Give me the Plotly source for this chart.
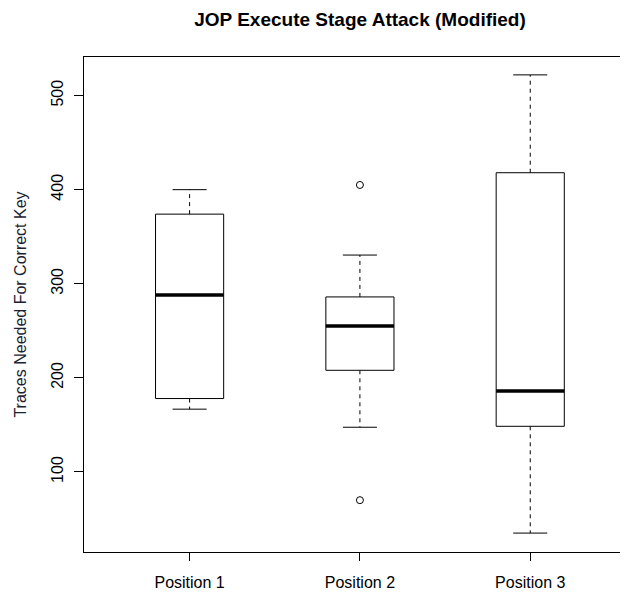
import plotly.graph_objects as go

categories = ["Position 1", "Position 2", "Position 3"]
positions = [1, 2, 3]
lower_whisker = [166.7, 147.5, 35.0]
q1 = [178.0, 208.0, 148.5]
median = [288.0, 255.0, 186.0]
q3 = [374.0, 286.0, 418.0]
upper_whisker = [400.0, 330.5, 522.0]
outlier_x = [2, 2]
outlier_y = [405.0, 70.0]
y_ticks = [100, 200, 300, 400, 500]

half_box = 0.2
half_cap = 0.1

fig = go.Figure()
for i, p in enumerate(positions):
    # box body
    fig.add_trace(go.Scatter(
        x=[p - half_box, p + half_box, p + half_box, p - half_box, p - half_box],
        y=[q1[i], q1[i], q3[i], q3[i], q1[i]],
        mode="lines", line=dict(color="black", width=1), hoverinfo="skip", showlegend=False))
    # median
    fig.add_trace(go.Scatter(
        x=[p - half_box, p + half_box], y=[median[i], median[i]],
        mode="lines", line=dict(color="black", width=3.5), hoverinfo="skip", showlegend=False))
    # whiskers (dashed)
    fig.add_trace(go.Scatter(
        x=[p, p, None, p, p], y=[q3[i], upper_whisker[i], None, q1[i], lower_whisker[i]],
        mode="lines", line=dict(color="black", width=1, dash="4px,4px"), hoverinfo="skip", showlegend=False))
    # caps
    fig.add_trace(go.Scatter(
        x=[p - half_cap, p + half_cap, None, p - half_cap, p + half_cap],
        y=[upper_whisker[i], upper_whisker[i], None, lower_whisker[i], lower_whisker[i]],
        mode="lines", line=dict(color="black", width=1), hoverinfo="skip", showlegend=False))

fig.add_trace(go.Scatter(
    x=outlier_x, y=outlier_y, mode="markers",
    marker=dict(symbol="circle-open", size=7, color="black", line=dict(width=1)),
    showlegend=False))

W, H = 620, 586
font_family = "Liberation Sans, Arial, sans-serif"
fig.update_layout(
    width=W, height=H,
    margin=dict(l=76, r=0, t=49, b=42, autoexpand=False),
    paper_bgcolor="white", plot_bgcolor="white",
    font=dict(family=font_family, size=16, color="black"),
    title=dict(text="<b>JOP Execute Stage Attack (Modified)</b>",
               font=dict(family=font_family, size=19, color="black"),
               x=352 / W, xref="container", xanchor="center",
               y=1 - 11 / H, yref="container", yanchor="middle"),
    xaxis=dict(range=[0.38, 3.574], tickvals=positions, ticktext=categories,
               showgrid=False, zeroline=False, showline=True, mirror=True,
               linecolor="black", linewidth=1, ticks="outside", ticklen=8,
               tickcolor="black", ticklabelstandoff=8,
               tickfont=dict(size=16, color="black")),
    yaxis=dict(range=[14.9, 541], tickvals=y_ticks,
               showgrid=False, zeroline=False, showline=True, mirror=False,
               linecolor="black", linewidth=1, ticks="outside", ticklen=9,
               tickcolor="black", tickangle=-90, ticklabelstandoff=5,
               tickfont=dict(size=16, color="black"),
               title=dict(text="Traces Needed For Correct Key",
                          font=dict(size=16, color="#1a2230"), standoff=17)),
)

fig.write_html("out.html")
